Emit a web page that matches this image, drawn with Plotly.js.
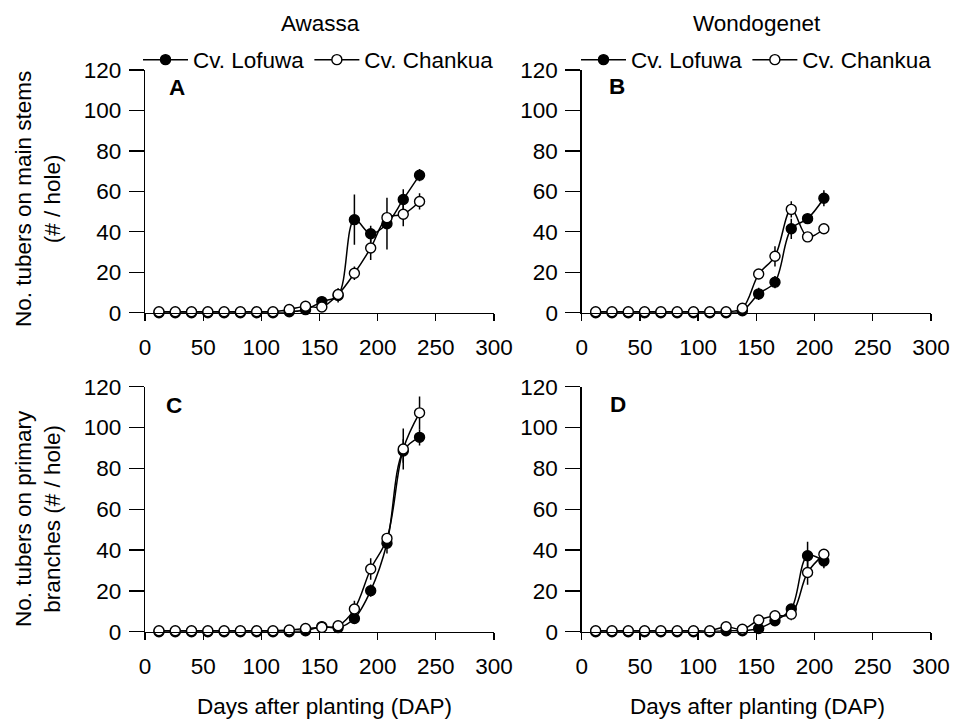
<!DOCTYPE html>
<html>
<head>
<meta charset="utf-8">
<script src="https://cdn.plot.ly/plotly-3.0.1.min.js"></script>
<style>html,body{margin:0;padding:0;background:#fff;}#chart{width:953px;height:721px;}</style>
</head>
<body>
<div id="chart"></div>
<script>
// Days after planting (sampling dates)
var daysAwassa = [12, 26, 40, 54, 68, 82, 96, 110, 124, 138, 152, 166, 180, 194, 208, 222, 236];
var daysWondo  = [12, 26, 40, 54, 68, 82, 96, 110, 124, 138, 152, 166, 180, 194, 208];

// A: tubers on main stems, Awassa
var aLofuwa     = [0, 0, 0, 0, 0, 0, 0, 0, 0.5, 1.5, 5.5, 8.5, 46, 39, 44, 56, 68];
var aLofuwaErr  = [0, 0, 0, 0, 0, 0, 0, 0, 0, 0, 0, 3.5, 12.4, 4, 12.8, 5, 3];
var aChankua    = [0.5, 0.5, 0.5, 0.5, 0.5, 0.5, 0.5, 0.5, 1.6, 3.2, 2.8, 9, 19.5, 32, 47, 48.7, 55];
var aChankuaErr = [0, 0, 0, 0, 0, 0, 0, 0, 0, 0, 0, 3, 3.3, 6, 2, 6, 4];

// B: tubers on main stems, Wondogenet
var bLofuwa     = [0, 0, 0, 0, 0, 0, 0, 0, 0, 1, 9.3, 15.1, 41.5, 46.5, 56.6];
var bLofuwaErr  = [0, 0, 0, 0, 0, 0, 0, 0, 0, 0, 3, 3, 5, 0, 4];
var bChankua    = [0.5, 0.5, 0.5, 0.5, 0.5, 0.5, 0.5, 0.5, 0.5, 2.2, 19.1, 27.9, 51.1, 37.5, 41.5];
var bChankuaErr = [0, 0, 0, 0, 0, 0, 0, 0, 0, 0, 0, 5, 4, 0, 0];

// C: tubers on primary branches, Awassa
var cLofuwa     = [0, 0, 0, 0, 0, 0, 0, 0, 0, 0.5, 2.5, 2, 6.5, 20.1, 43.3, 88.5, 95.2];
var cLofuwaErr  = [0, 0, 0, 0, 0, 0, 0, 0, 0, 0, 0, 0, 0, 3, 5, 5.7, 4];
var cChankua    = [0.5, 0.5, 0.5, 0.5, 0.5, 0.5, 0.5, 0.5, 0.8, 1.6, 2.1, 2.9, 11.1, 30.7, 45.7, 89.5, 107.2];
var cChankuaErr = [0, 0, 0, 0, 0, 0, 0, 0, 0, 0, 0, 2, 4, 5.3, 1, 10, 8];

// D: tubers on primary branches, Wondogenet
var dLofuwa     = [0, 0, 0, 0, 0, 0, 0, 0, 0.5, 0.5, 1.6, 5.4, 11.1, 37.2, 34.6];
var dLofuwaErr  = [0, 0, 0, 0, 0, 0, 0, 0, 0, 0, 0, 0, 0, 6.8, 3.5];
var dChankua    = [0.5, 0.5, 0.5, 0.5, 0.5, 0.5, 0.5, 0.5, 2.4, 1.2, 5.7, 7.8, 8.6, 29, 37.9];
var dChankuaErr = [0, 0, 0, 0, 0, 0, 0, 0, 0, 0, 0, 1, 3, 6, 0];

var seriesNames = ['Cv. Lofuwa', 'Cv. Chankua'];
var siteTitles = ['Awassa', 'Wondogenet'];
var panelLetters = ['A', 'B', 'C', 'D'];
var xTitle = 'Days after planting (DAP)';
var yTitleTop = 'No. tubers on main stems<br>(# / hole)';
var yTitleBottom = 'No. tubers on primary<br>branches (# / hole)';

var FONT = 'Liberation Sans, Arial, sans-serif';
var FS = 22.5;

function mk(x, y, err, filled, xa, ya, showleg, leg, name) {
  return {
    type: 'scatter', mode: 'lines+markers', x: x, y: y, name: name,
    xaxis: xa, yaxis: ya, legend: leg, showlegend: showleg, cliponaxis: false,
    line: {color: '#000', width: 1.5, shape: 'spline', smoothing: 1},
    marker: {symbol: 'circle', size: 10, color: filled ? '#000' : '#fff', line: {color: '#000', width: 1.4}},
    error_y: {type: 'data', array: err, visible: true, color: '#000', thickness: 1.5, width: 0}
  };
}

var data = [
  mk(daysAwassa, aLofuwa, aLofuwaErr, true, 'x', 'y', true, 'legend', seriesNames[0]),
  mk(daysAwassa, aChankua, aChankuaErr, false, 'x', 'y', true, 'legend', seriesNames[1]),
  mk(daysWondo, bLofuwa, bLofuwaErr, true, 'x2', 'y2', true, 'legend2', seriesNames[0]),
  mk(daysWondo, bChankua, bChankuaErr, false, 'x2', 'y2', true, 'legend2', seriesNames[1]),
  mk(daysAwassa, cLofuwa, cLofuwaErr, true, 'x3', 'y3', false, 'legend', seriesNames[0]),
  mk(daysAwassa, cChankua, cChankuaErr, false, 'x3', 'y3', false, 'legend', seriesNames[1]),
  mk(daysWondo, dLofuwa, dLofuwaErr, true, 'x4', 'y4', false, 'legend', seriesNames[0]),
  mk(daysWondo, dChankua, dChankuaErr, false, 'x4', 'y4', false, 'legend', seriesNames[1])
];

var W = 953, H = 721;
var xDomL = [145 / W, 494 / W];
var xDomR = [581.7 / W, 931 / W];
var yDomT = [1 - 312.7 / H, 1 - 70 / H];
var yDomB = [1 - 631.7 / H, 1 - 386.7 / H];

function xa(dom, anchor) {
  return {domain: dom, anchor: anchor, range: [0, 300], dtick: 50, tick0: 0,
    ticks: 'outside', ticklen: 7, tickwidth: 1.3, tickcolor: '#000', ticklabelstandoff: 7,
    showline: true, linecolor: '#000', linewidth: 1.3, showgrid: false, zeroline: false,
    tickfont: {family: FONT, size: FS, color: '#000'}, fixedrange: true};
}
function ya(dom, anchor) {
  return {domain: dom, anchor: anchor, range: [0, 120], dtick: 20, tick0: 0,
    ticks: 'outside', ticklen: 15, tickwidth: 1.3, tickcolor: '#000', ticklabelstandoff: 3,
    showline: true, linecolor: '#000', linewidth: 1.3, showgrid: false, zeroline: false,
    tickfont: {family: FONT, size: FS, color: '#000'}, fixedrange: true};
}

var ann = [];
function addText(text, x, y, opts) {
  var a = {text: text, x: x / W, y: 1 - y / H, xref: 'paper', yref: 'paper', showarrow: false,
    xanchor: 'center', yanchor: 'middle', font: {family: FONT, size: FS, color: '#000'}};
  for (var k in opts) a[k] = opts[k];
  ann.push(a);
}
addText(siteTitles[0], 320, 24, {});
addText(siteTitles[1], 757, 24, {});
addText(xTitle, 324, 706, {});
addText(xTitle, 757, 706, {});
addText(yTitleTop, 38, 199, {textangle: -90});
addText(yTitleBottom, 38, 519, {textangle: -90});
addText('<b>' + panelLetters[0] + '</b>', 177, 88, {});
addText('<b>' + panelLetters[1] + '</b>', 617, 87, {});
addText('<b>' + panelLetters[2] + '</b>', 174, 405, {});
addText('<b>' + panelLetters[3] + '</b>', 618, 404, {});

var legBase = {orientation: 'h', xanchor: 'left', yanchor: 'middle', bgcolor: 'rgba(0,0,0,0)',
  font: {family: FONT, size: FS, color: '#000'}, itemwidth: 45, tracegroupgap: 0};
var leg1 = Object.assign({}, legBase, {x: 138 / W, y: 1 - 60 / H});
var leg2 = Object.assign({}, legBase, {x: 576 / W, y: 1 - 60 / H});

var layout = {
  width: W, height: H, margin: {l: 0, r: 0, t: 0, b: 0},
  paper_bgcolor: '#fff', plot_bgcolor: '#fff',
  font: {family: FONT, size: FS, color: '#000'},
  showlegend: true,
  legend: leg1, legend2: leg2,
  xaxis: xa(xDomL, 'y'), yaxis: ya(yDomT, 'x'),
  xaxis2: xa(xDomR, 'y2'), yaxis2: ya(yDomT, 'x2'),
  xaxis3: xa(xDomL, 'y3'), yaxis3: ya(yDomB, 'x3'),
  xaxis4: xa(xDomR, 'y4'), yaxis4: ya(yDomB, 'x4'),
  annotations: ann
};

Plotly.newPlot('chart', data, layout, {staticPlot: true, displayModeBar: false});
</script>
</body>
</html>
